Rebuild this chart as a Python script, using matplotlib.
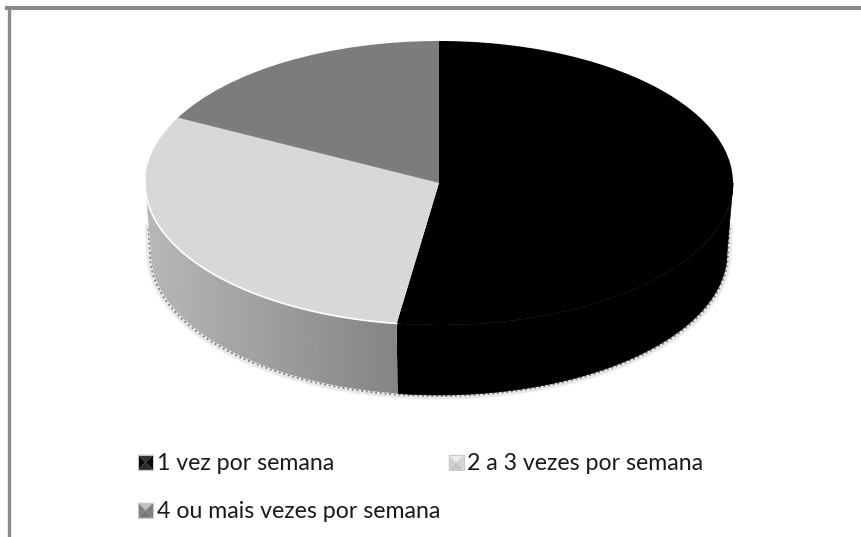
import numpy as np
import matplotlib
matplotlib.use("Agg")
import matplotlib.pyplot as plt
from matplotlib.lines import Line2D
from matplotlib.legend_handler import HandlerBase
from matplotlib.patches import Patch, Polygon

labels = ["1 vez por semana", "2 a 3 vezes por semana", "4 ou mais vezes por semana"]
values = [52.3, 30.3, 17.4]
colors = ["#000000", "#d8d8d8", "#7c7c7c"]
# top / side / bottom facets of the little legend squares
bevels = [("#333333", "#0a0a0a", "#2a2a2a"),
          ("#ececec", "#d2d2d2", "#c4c4c4"),
          ("#c0c0c0", "#808080", "#747474")]

W, H = 861, 537
cx, cy = 439, 183      # pie centre in pixels
rx, ry = 294, 142      # radii in pixels
depth = 70 / ry        # height of the disc, in pie units
shrink = 288 / 294     # lower rim is a bit narrower than the top

plt.rcParams["font.family"] = ["Lato", "DejaVu Sans"]

fig = plt.figure(figsize=(W / 100, H / 100), dpi=100, facecolor="white")
ax = fig.add_axes([0, 0, 1, 1])


def arc(a0, a1, dy=0.0, k=1.0, n=200):
    # angles clockwise from 12 o'clock, in degrees
    t = np.radians(np.linspace(a0, a1, n))
    return k * np.sin(t), np.cos(t) + dy


edges = np.concatenate([[0], np.cumsum(values)]) / sum(values) * 360

# soft shadow under the disc, it runs a little way up the sides
sx, sy = arc(90, 270, -depth - 1.0 / ry, shrink + 1 / rx)
top_y = -45 / ry
sx = np.r_[290.5 / rx, sx, -290.5 / rx]
sy = np.r_[top_y, sy, top_y]
ax.plot(sx, sy, color="#000000", alpha=0.09, lw=5, zorder=1)
ax.plot(sx, sy, color="#777777", lw=1.3, ls=(0, (1, 1.6)), zorder=1)

# side wall, black part
x0, y0 = arc(90, edges[1])
x1, y1 = arc(90, edges[1], -depth, shrink)
ax.add_patch(Polygon(np.r_[np.c_[x0, y0], np.c_[x1, y1][::-1]], fc=colors[0], ec=colors[0], lw=0.5, zorder=2))

# side wall, light part with a left to right gradient
x0, y0 = arc(edges[1], 270)
x1, y1 = arc(edges[1], 270, -depth, shrink)
wall = Polygon(np.r_[np.c_[x0, y0], np.c_[x1, y1][::-1]], fc="white", ec="none", zorder=2)
ax.add_patch(wall)
grad = np.linspace(0.72, 0.52, 256).reshape(1, -1)
im = ax.imshow(grad, cmap="gray", vmin=0, vmax=1, aspect="auto", zorder=2,
               extent=[-1, x0[0], y1.min(), y0.max()])
im.set_clip_path(wall)

# top of the disc
ax.pie(values, colors=colors, startangle=90, counterclock=False, radius=1,
       wedgeprops={"linewidth": 0, "zorder": 3})

# white rim on the light slice
rim_x, rim_y = arc(edges[1], 272)
ax.plot(rim_x, rim_y, color="white", lw=1.2, zorder=4)

ax.set_aspect("auto")
ax.set_xlim(-cx / rx, (W - cx) / rx)
ax.set_ylim((cy - H) / ry, cy / ry)
ax.axis("off")

# grey frame, open on the right and at the bottom
ax.add_line(Line2D([8.5 / W, 8.5 / W], [0, 1 - 8 / H], transform=ax.transAxes, color="#8a8a8a", lw=2.4, zorder=5))
ax.add_line(Line2D([7 / W, 1], [1 - 8 / H, 1 - 8 / H], transform=ax.transAxes, color="#8a8a8a", lw=2.9, zorder=5))


class BevelHandler(HandlerBase):
    def create_artists(self, legend, handle, xd, yd, w, h, fontsize, trans):
        top, side, bot = handle.bevel
        s = 15.0 * 72 / 100
        x, y = (w - s) / 2 - xd, (h - s) / 2 - yd
        m = np.array([x + s / 2, y + s / 2])
        a, b, c, d = [x, y], [x + s, y], [x + s, y + s], [x, y + s]
        tris = [([a, b, m], bot), ([b, c, m], side), ([c, d, m], top), ([d, a, m], side)]
        arts = [Polygon(p, fc=col, ec="none", transform=trans) for p, col in tris]
        arts.append(Polygon([a, b, c, d], fc="none", ec="#c8c8c8", lw=0.7, transform=trans))
        return arts


handles = []
for c, b in zip(colors, bevels):
    p = Patch(color=c)
    p.bevel = b
    handles.append(p)

order = [0, 2, 1]  # matplotlib fills legend columns first
fig.legend([handles[i] for i in order], [labels[i] for i in order], ncol=2,
           loc="upper left", bbox_to_anchor=(138 / W, 1 - 452 / H), frameon=False,
           fontsize=16.7, handler_map={Patch: BevelHandler()}, borderpad=0, borderaxespad=0,
           handlelength=0.65, handleheight=1.0, handletextpad=0.15, labelspacing=1.1,
           columnspacing=0.38, labelcolor="#1a1a1a")

fig.savefig("out.png", dpi=100)
